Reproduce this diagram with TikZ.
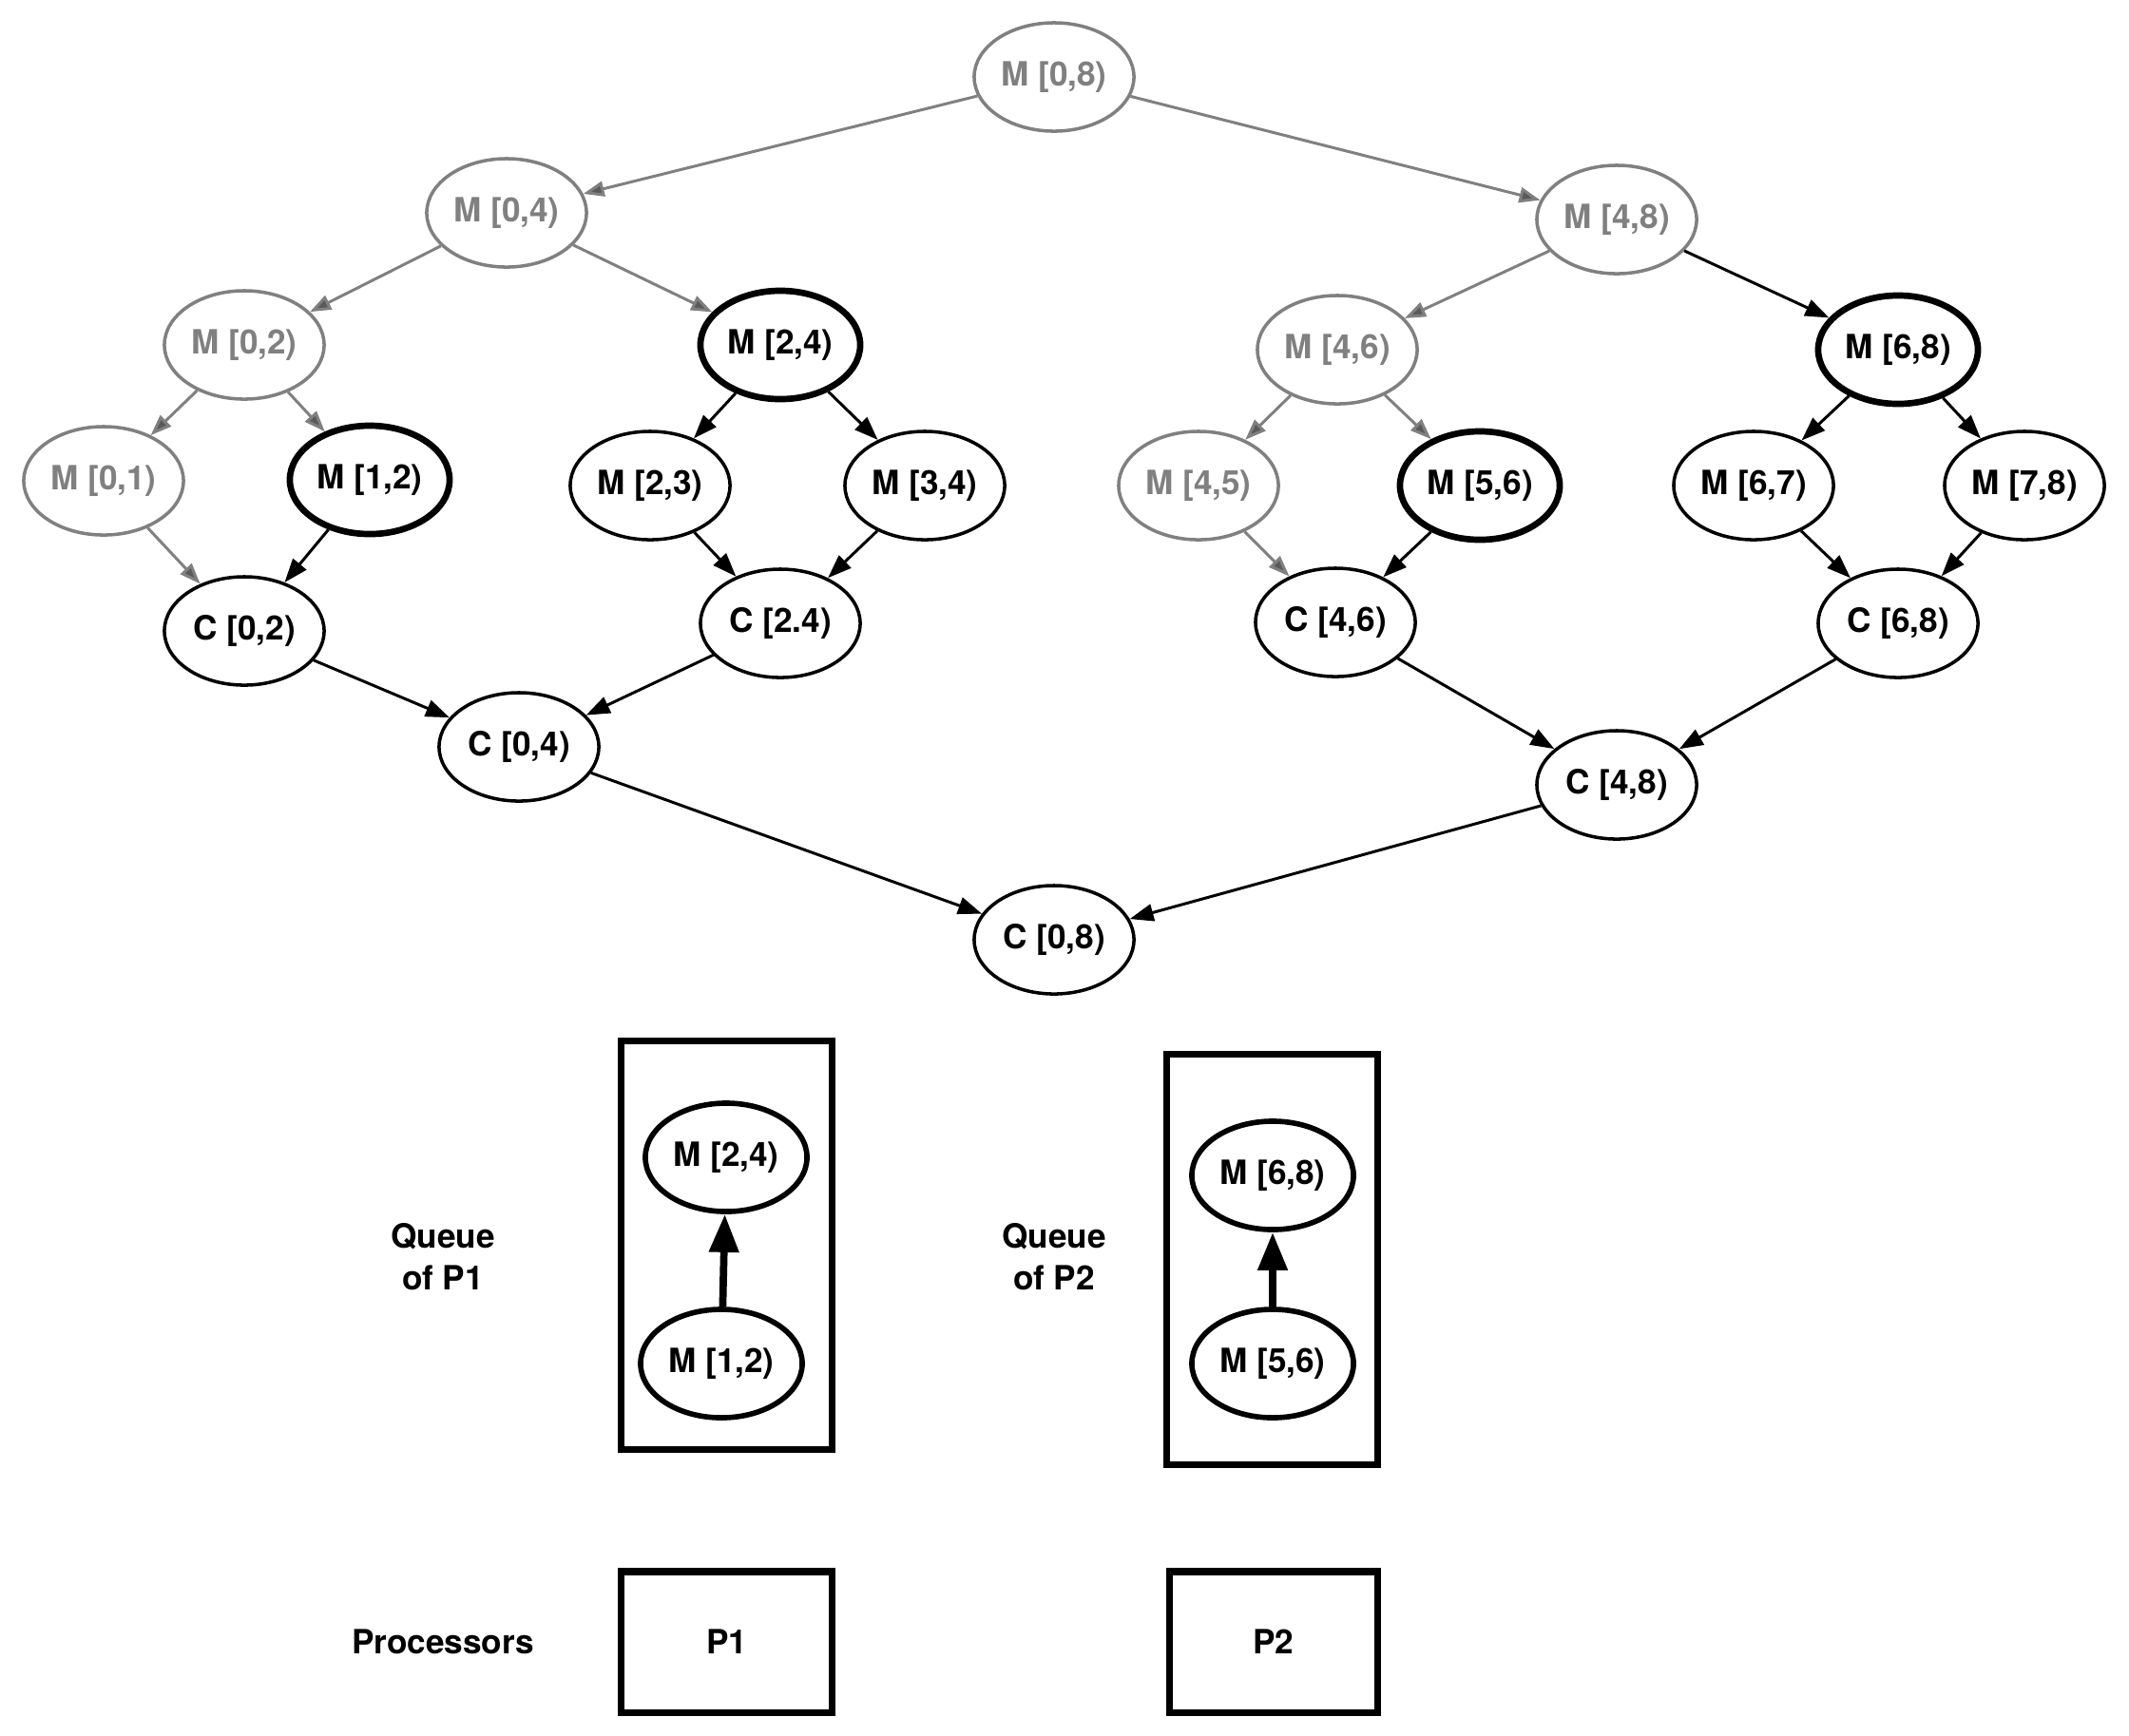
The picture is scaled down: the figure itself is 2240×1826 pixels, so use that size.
\documentclass[tikz,border=0pt]{standalone}
\usepackage{fontspec}
\setmainfont{TeX Gyre Heros}
\usetikzlibrary{shapes.geometric,arrows.meta}
\definecolor{linegray}{HTML}{808080}
\definecolor{tipgray}{HTML}{5A5A5A}

\begin{document}
\begin{tikzpicture}[x=0.01cm,y=-0.01cm,
  font=\fontsize{10}{12.5}\selectfont\bfseries,
  job/.style={ellipse,draw,line width=1pt,minimum width=1.68cm,minimum height=1.14cm,inner sep=0pt,fill=white},
  idlejob/.style={job,draw=linegray,text=linegray},
  busyjob/.style={job,line width=1.9pt},
  qjob/.style={job,line width=1.6pt,minimum width=1.70cm},
  link/.style={line width=0.85pt,-{Triangle[length=2.5mm,width=1.8mm]}},
  glink/.style={line width=0.85pt,draw=linegray,-{Triangle[length=2.2mm,width=1.6mm,fill=tipgray]}},
  qlink/.style={line width=2.2pt,-{Triangle[length=4mm,width=3mm]}},
  frame/.style={draw,line width=2pt,inner sep=0pt},
  lbl/.style={align=center}
]
\useasboundingbox (0,0) rectangle (2240,1826);

% task tree: splitting (M) and combining (C) steps
\node[idlejob] (m08) at (1109,81)  {M [0,8)};
\node[idlejob] (m04) at (533,224)  {M [0,4)};
\node[idlejob] (m48) at (1701,231) {M [4,8)};
\node[idlejob] (m02) at (257,363)  {M [0,2)};
\node[busyjob] (m24) at (821,363)  {M [2,4)};
\node[idlejob] (m46) at (1407,368) {M [4,6)};
\node[busyjob] (m68) at (1997,368) {M [6,8)};
\node[idlejob] (m01) at (109,506)  {M [0,1)};
\node[busyjob] (m12) at (389,505)  {M [1,2)};
\node[job]     (m23) at (684,511)  {M [2,3)};
\node[job]     (m34) at (973,511)  {M [3,4)};
\node[idlejob] (m45) at (1261,511) {M [4,5)};
\node[busyjob] (m56) at (1557,511) {M [5,6)};
\node[job]     (m67) at (1845,511) {M [6,7)};
\node[job]     (m78) at (2130,511) {M [7,8)};
\node[job]     (c02) at (257,664)  {C [0,2)};
\node[job]     (c24) at (821,656)  {C [2.4)};
\node[job]     (c46) at (1405,655) {C [4,6)};
\node[job]     (c68) at (1997,656) {C [6,8)};
\node[job]     (c04) at (546,786)  {C [0,4)};
\node[job]     (c48) at (1701,826) {C [4,8)};
\node[job]     (c08) at (1109,989) {C [0,8)};

% finished splits
\draw[glink] (m08) -- (m04);
\draw[glink] (m08) -- (m48);
\draw[glink] (m04) -- (m02);
\draw[glink] (m04) -- (m24);
\draw[glink] (m02) -- (m01);
\draw[glink] (m02) -- (m12);
\draw[glink] (m01) -- (c02);
\draw[glink] (m48) -- (m46);
\draw[glink] (m46) -- (m45);
\draw[glink] (m46) -- (m56);
\draw[glink] (m45) -- (c46);

% pending dependencies
\draw[link] (m48) -- (m68);
\draw[link] (m12) -- (c02);
\draw[link] (m24) -- (m23);
\draw[link] (m24) -- (m34);
\draw[link] (m23) -- (c24);
\draw[link] (m34) -- (c24);
\draw[link] (m56) -- (c46);
\draw[link] (m68) -- (m67);
\draw[link] (m68) -- (m78);
\draw[link] (m67) -- (c68);
\draw[link] (m78) -- (c68);
\draw[link] (c02) -- (c04);
\draw[link] (c24) -- (c04);
\draw[link] (c46) -- (c48);
\draw[link] (c68) -- (c48);
\draw[link] (c04) -- (c08);
\draw[link] (c48) -- (c08);

% work queues
\node[frame,minimum width=2.21cm,minimum height=4.29cm] (q1) at (764.5,1310.5) {};
\node[frame,minimum width=2.21cm,minimum height=4.31cm] (q2) at (1338.5,1325.5) {};
\node[qjob] (q1top) at (764,1218) {M [2,4)};
\node[qjob] (q1bot) at (759,1435) {M [1,2)};
\node[qjob] (q2top) at (1339,1237) {M [6,8)};
\node[qjob] (q2bot) at (1339,1435) {M [5,6)};
\draw[qlink] (q1bot) -- (q1top);
\draw[qlink] (q2bot) -- (q2top);
\node[lbl] (q1lbl) at (466,1323) {Queue\\of P1};
\node[lbl] (q2lbl) at (1109,1323) {Queue\\of P2};

% processors
\node[frame,minimum width=2.21cm,minimum height=1.48cm] (p1) at (764.5,1728) {P1};
\node[frame,minimum width=2.19cm,minimum height=1.48cm] (p2) at (1340,1728) {P2};
\node (plbl) at (466,1728) {Processors};
\end{tikzpicture}
\end{document}
